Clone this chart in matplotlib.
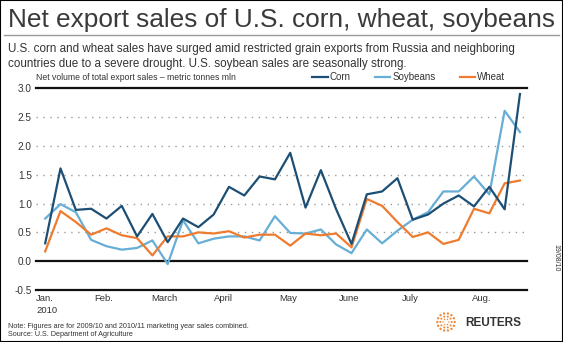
import numpy as np
import matplotlib.pyplot as plt
from matplotlib.patches import Rectangle, Circle

plt.rcParams['font.family'] = ['Liberation Sans', 'DejaVu Sans']

# Weekly net export sales, metric tonnes mln (Jan - Aug 2010)
corn = [0.31, 1.61, 0.89, 0.91, 0.74, 0.96, 0.43, 0.82, 0.33, 0.74, 0.59,
        0.81, 1.29, 1.14, 1.47, 1.42, 1.88, 0.93, 1.58, 0.90, 0.30, 1.16,
        1.21, 1.44, 0.72, 0.81, 1.00, 1.14, 0.95, 1.29, 0.90, 2.90]
soybeans = [0.74, 0.99, 0.85, 0.37, 0.26, 0.20, 0.23, 0.36, -0.05, 0.71, 0.31,
            0.39, 0.43, 0.43, 0.36, 0.78, 0.49, 0.48, 0.55, 0.29, 0.14, 0.55,
            0.31, 0.53, 0.72, 0.85, 1.21, 1.21, 1.47, 1.16, 2.61, 2.24]
wheat = [0.17, 0.87, 0.68, 0.46, 0.57, 0.45, 0.40, 0.10, 0.43, 0.43, 0.50,
         0.48, 0.52, 0.41, 0.46, 0.46, 0.27, 0.48, 0.45, 0.48, 0.24, 1.08,
         0.96, 0.68, 0.42, 0.50, 0.30, 0.37, 0.91, 0.83, 1.35, 1.40]
weeks = np.arange(len(corn))

month_labels = ['Jan.\n2010', 'Feb.', 'March', 'April', 'May', 'June', 'July', 'Aug.']
month_pos = [-0.6, 3.2, 6.9, 11.0, 15.3, 19.2, 23.3, 27.9]
yticks = [-0.5, 0.0, 0.5, 1.0, 1.5, 2.0, 2.5, 3.0]

CORN = '#1d4e74'
SOY = '#67aed6'
WHEAT = '#ee7b2e'

W, H = 563, 342
fig = plt.figure(figsize=(W / 100, H / 100), dpi=100)
fig.patch.set_facecolor('white')

def fx(px):
    return px / W

def fy(py):
    return 1 - py / H

# frame + title rule
fig.patches.append(Rectangle((0, 0), 1, 1, transform=fig.transFigure,
                             fill=False, edgecolor='black', lw=1.5))
fig.add_artist(plt.Line2D([fx(4), fx(559)], [fy(35), fy(35)],
                          transform=fig.transFigure, color='#9a9a9a', lw=1))

fig.text(fx(8), fy(20), 'Net export sales of U.S. corn, wheat, soybeans',
         fontsize=18.9, color='#3a3a3a', va='center', ha='left')
fig.text(fx(8), fy(49), 'U.S. corn and wheat sales have surged amid restricted grain exports '
         'from Russia and neighboring', fontsize=8.4, color='#333333', va='center')
fig.text(fx(8), fy(64), 'countries due to a severe drought. U.S. soybean sales are seasonally strong.',
         fontsize=8.4, color='#333333', va='center')
fig.text(fx(36), fy(78), 'Net volume of total export sales \u2013 metric tonnes mln',
         fontsize=6.2, color='#333333', va='center')

# plot area
ax = fig.add_axes([fx(36), fy(290), fx(527) - fx(36), fy(88.3) - fy(290)])
ax.plot(weeks, corn, color=CORN, lw=1.6, label='Corn', zorder=4)
ax.plot(weeks, soybeans, color=SOY, lw=1.6, label='Soybeans', zorder=3)
ax.plot(weeks, wheat, color=WHEAT, lw=1.6, label='Wheat', zorder=3.5)

ax.set_xlim(-0.52, 31.46)
ax.set_ylim(-0.5, 3.0)
for y in yticks:
    if y in (-0.5, 0.0, 3.0):
        ax.axhline(y, color='#111111', lw=1.6, zorder=2, clip_on=False)
    else:
        ax.axhline(y, color='#9a9a9a', lw=1, linestyle=(0, (1, 4)), zorder=1)
for s in ax.spines.values():
    s.set_visible(False)
ax.set_yticks(yticks)
ax.set_yticklabels([f'{v:.1f}' for v in yticks], fontsize=7.2, color='#333333')
ax.tick_params(axis='y', length=0, pad=3)
ax.set_xticks(month_pos)
ax.set_xticklabels(month_labels, fontsize=6.8, color='#333333', ha='left',
                   va='top', linespacing=1.45)
ax.tick_params(axis='x', length=0, pad=3)

leg = fig.legend(loc='center left', bbox_to_anchor=(fx(312), fy(77)), ncol=3,
                 frameon=False, fontsize=7, handlelength=1.6, handletextpad=0.2,
                 columnspacing=2.5, borderaxespad=0, borderpad=0)
for t in leg.get_texts():
    t.set_color('#333333')

fig.text(fx(556), fy(258), '19/08/10', rotation=-90, fontsize=5, color='#333333',
         ha='center', va='center')

fig.text(fx(8), fy(326), 'Note: Figures are for 2009/10 and 2010/11 marketing year sales combined.',
         fontsize=5.2, color='#333333', va='center')
fig.text(fx(8), fy(335), 'Source: U.S. Department of Agriculture',
         fontsize=5.2, color='#333333', va='center')

# Reuters mark
lax = fig.add_axes([fx(435), fy(333), fx(457) - fx(435), fy(311) - fy(333)])
lax.set_xlim(-1.2, 1.2)
lax.set_ylim(-1.2, 1.2)
lax.set_aspect('equal')
lax.axis('off')
for r, n, sz in [(0.95, 14, 0.13), (0.62, 10, 0.11), (0.32, 6, 0.08)]:
    for a in np.linspace(0, 2 * np.pi, n, endpoint=False):
        lax.add_patch(Circle((r * np.cos(a), r * np.sin(a)), sz, color='#f08a3c', lw=0))
fig.text(fx(465), fy(323), 'REUTERS', fontsize=8.5, fontweight='bold',
         color='#333333', va='center')

fig.savefig('out.png', dpi=100)
